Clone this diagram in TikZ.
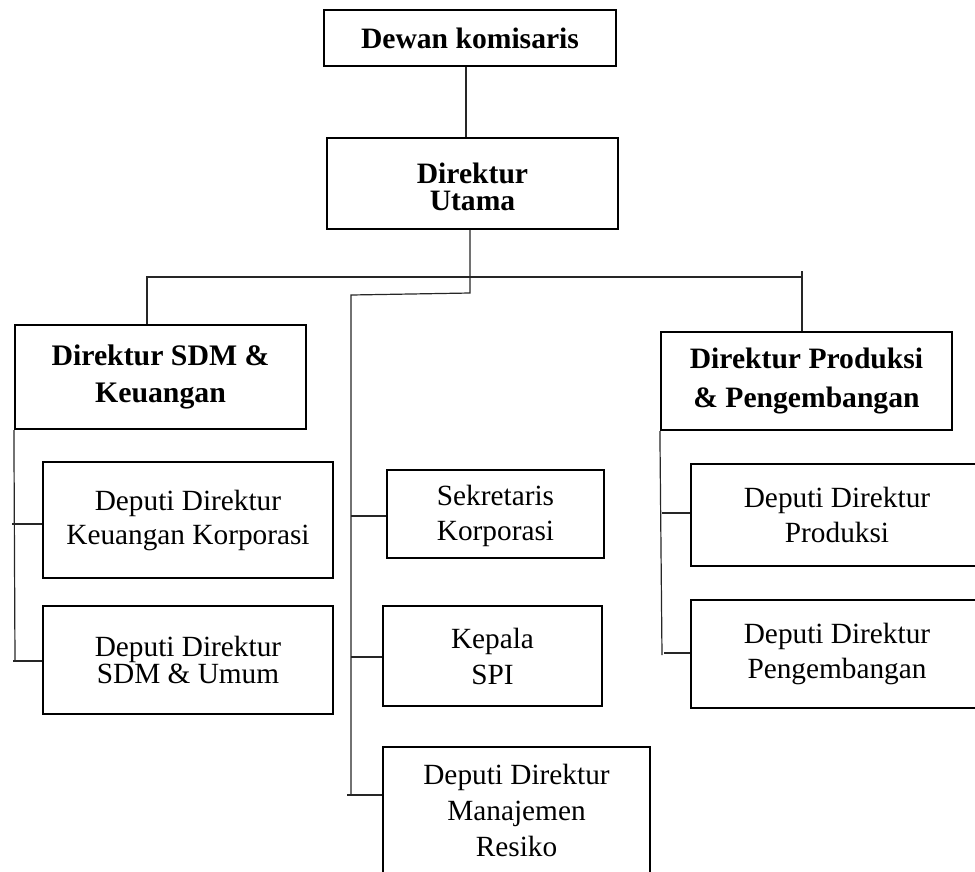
\documentclass[tikz,border=0pt]{standalone}
\usepackage{fontspec}
\setmainfont{Liberation Serif}
\begin{document}
\begin{tikzpicture}[x=1pt,y=-1pt,
  box/.style={draw=black,line width=2.2pt,rectangle,inner sep=0pt,align=center,text=black},
  conn/.style={draw=black!85,line width=1.2pt}]
\useasboundingbox (0,0) rectangle (975,871);
\clip (0,0) rectangle (975,871);
% boxes
\node[box,minimum width=292pt,minimum height=56pt,font=\fontsize{29.6}{34}\selectfont\bfseries] (dewan) at (470,38) {Dewan komisaris};
\node[box,minimum width=291pt,minimum height=91pt,font=\fontsize{29.6}{27}\selectfont\bfseries] (utama) at (472.5,183.5) {\rule{0pt}{28pt}Direktur\\Utama};
\node[box,minimum width=291pt,minimum height=104pt,font=\fontsize{29.8}{37}\selectfont\bfseries] (sdm) at (160.5,377) {Direktur SDM \&\\Keuangan};
\node[box,minimum width=291pt,minimum height=98pt,font=\fontsize{29.6}{39}\selectfont\bfseries] (prod) at (806.5,381) {Direktur Produksi\\\& Pengembangan};
\node[box,minimum width=290pt,minimum height=116pt,font=\fontsize{29.3}{34}\selectfont] (dk) at (188,520) {Deputi Direktur\\Keuangan Korporasi};
\node[box,minimum width=290pt,minimum height=108pt,font=\fontsize{29.3}{27}\selectfont] (du) at (188,660) {Deputi Direktur\\SDM \& Umum};
\node[box,minimum width=217pt,minimum height=88pt,font=\fontsize{29.3}{35}\selectfont] (sek) at (495.5,514) {\rule{0pt}{24pt}Sekretaris\\Korporasi};
\node[box,minimum width=219pt,minimum height=100pt,font=\fontsize{29.3}{36}\selectfont] (kep) at (492.5,656) {Kepala\\SPI};
\node[box,minimum width=267pt,minimum height=126pt,font=\fontsize{29.3}{36}\selectfont] (man) at (516.5,810) {Deputi Direktur\\Manajemen\\Resiko};
\node[box,minimum width=292pt,minimum height=102pt,font=\fontsize{29.3}{35}\selectfont] (dp) at (837,515) {Deputi Direktur\\Produksi};
\node[box,minimum width=292pt,minimum height=108pt,font=\fontsize{29.3}{35}\selectfont] (dpg) at (837,654) {Deputi Direktur\\Pengembangan};
% junction coordinates
\coordinate (tA) at (466,0);
\coordinate (tB) at (470,293);
\coordinate (tC) at (351,295);
\coordinate (mB) at (351,795);
\coordinate (hL) at (147,277);
\coordinate (hR) at (802,277);
\coordinate (hT) at (802,271);
\coordinate (lB) at (15,661);
\coordinate (k1) at (12,524);
\coordinate (k2) at (13,661);
\coordinate (s1) at (351,516);
\coordinate (s2) at (351,657);
\coordinate (s3) at (347,795);
\coordinate (rB) at (662,655);
\coordinate (r1) at (662,513);
\coordinate (r2) at (664,653);
% connectors
\draw[conn] (dewan.south -| tA) -- (utama.north -| tA);
\draw[conn] (utama.south -| tB) -- (tB) -- (tC) -- (mB);
\draw[conn] (sdm.north -| hL) -- (hL) -- (hR);
\draw[conn] (hT) -- (prod.north -| hT);
\draw[conn] (sdm.south west) -- (lB);
\draw[conn] (k1) -- (k1 -| dk.west);
\draw[conn] (k2) -- (k2 -| du.west);
\draw[conn] (s1) -- (s1 -| sek.west);
\draw[conn] (s2) -- (s2 -| kep.west);
\draw[conn] (s3) -- (s3 -| man.west);
\draw[conn] (prod.south west) -- (rB);
\draw[conn] (r1) -- (r1 -| dp.west);
\draw[conn] (r2) -- (r2 -| dpg.west);
\end{tikzpicture}
\end{document}
